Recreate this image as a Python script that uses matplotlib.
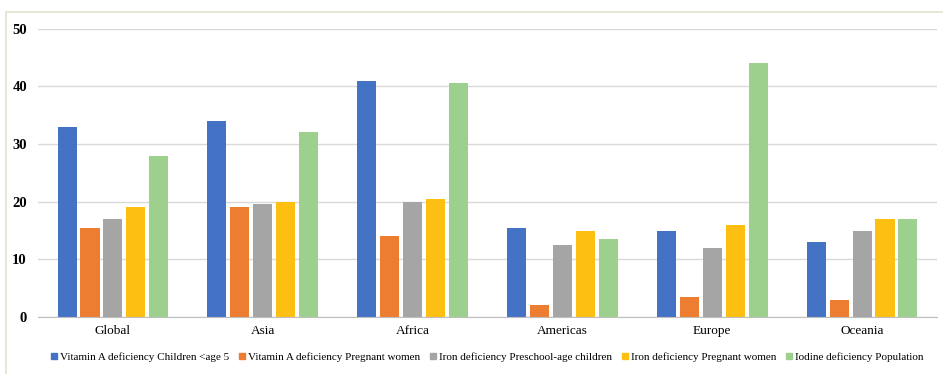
import numpy as np
import matplotlib
matplotlib.use("Agg")
import matplotlib.pyplot as plt
from matplotlib.lines import Line2D

plt.rcParams['font.family'] = ['Liberation Serif', 'DejaVu Serif']

regions = ['Global', 'Asia', 'Africa', 'Americas', 'Europe', 'Oceania']
vita_children = [33, 34, 41, 15.5, 15, 13]
vita_pregnant = [15.5, 19, 14, 2, 3.4, 3]
iron_preschool = [17, 19.6, 20, 12.5, 12, 15]
iron_pregnant = [19, 20, 20.5, 15, 16, 17]
iodine_pop = [28, 32, 40.5, 13.5, 44, 17]

series = [
    ('Vitamin A deficiency Children <age 5', vita_children, '#4472C4'),
    ('Vitamin A deficiency Pregnant women', vita_pregnant, '#ED7D31'),
    ('Iron deficiency Preschool-age children', iron_preschool, '#A5A5A5'),
    ('Iron deficiency Pregnant women', iron_pregnant, '#FDBF12'),
    ('Iodine deficiency Population', iodine_pop, '#9DD08D'),
]

fig = plt.figure(figsize=(9.43, 3.74), dpi=100)
ax = fig.add_axes([38/943, 1 - 317/374, 899/943, (317 - 28.7)/374])

x = np.arange(len(regions))
w = 0.127
step = 0.153
for i, (name, vals, col) in enumerate(series):
    ax.bar(x + (i - 2) * step, vals, width=w, color=col, label=name, zorder=3)

ax.set_xlim(-0.5, len(regions) - 0.5)
ax.set_ylim(0, 50)
ax.set_yticks([0, 10, 20, 30, 40, 50])
ax.set_xticks(x)
ax.set_xticklabels(regions, fontsize=9.5)
ax.tick_params(axis='y', length=0, pad=8, labelsize=10.5)
ax.tick_params(axis='x', length=0, pad=6)
for lab in ax.get_yticklabels():
    lab.set_fontweight('bold')
ax.yaxis.grid(True, color='#D9D9D9', linewidth=1, zorder=0)
for s in ['top', 'right', 'left']:
    ax.spines[s].set_visible(False)
ax.spines['bottom'].set_color('#BFBFBF')
ax.spines['bottom'].set_zorder(4)

# outer frame (only top and left visible in the picture)
fig.add_artist(Line2D([6/943, 6/943], [0, 1 - 12/374], color='#E3E3D0', lw=1.2))
fig.add_artist(Line2D([6/943, 1], [1 - 12/374, 1 - 12/374], color='#E3E3D0', lw=1.2))

handles = [Line2D([], [], marker='s', linestyle='', color=c, markersize=4) for _, _, c in series]
fig.legend(handles, [s[0] for s in series], loc='center', bbox_to_anchor=(487/943, 1 - 357/374),
           ncol=5, frameon=False, fontsize=8, handlelength=0.6, handletextpad=0.2,
           columnspacing=0.9)

fig.savefig('out.png', dpi=100, facecolor='white')
